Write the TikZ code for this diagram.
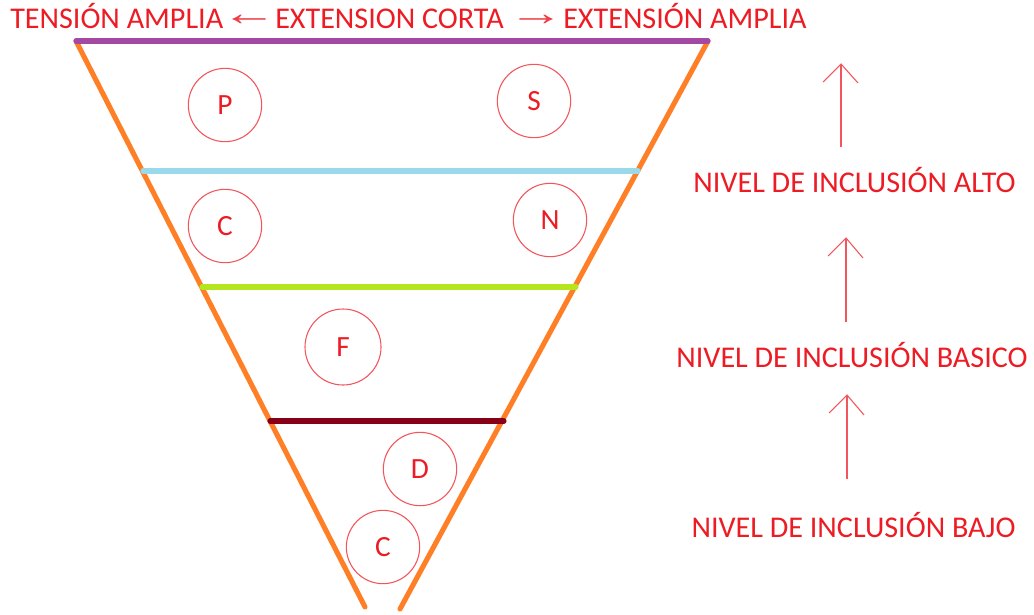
\documentclass[tikz,border=0pt]{standalone}
\usepackage{fontspec}
\setmainfont{Carlito}
\newfontfamily\arrowfont{Liberation Sans}
\usetikzlibrary{calc}
\definecolor{pred}{HTML}{ED1C24}
\definecolor{porange}{HTML}{FF7F27}
\definecolor{ppurple}{HTML}{A349A4}
\definecolor{pblue}{HTML}{99D9EA}
\definecolor{pgreen}{HTML}{B5E61D}
\definecolor{pdark}{HTML}{880015}
\tikzset{
  lbl/.style={text=pred, font=\fontsize{22.6pt}{26pt}\selectfont, inner sep=0pt},
  arrowtext/.style={text=pred!85, inner sep=0pt, font=\arrowfont\fontsize{21pt}{24pt}\selectfont},
  ball/.style={circle, draw=pred!75, line width=0.8pt, minimum size=55pt, inner sep=0pt, text=pred, font=\fontsize{22pt}{26pt}\selectfont},
  band/.style={line width=3.8pt, line cap=round},
  side/.style={porange, line width=3.8pt, line cap=round},
  uparrow/.style={draw=pred!75, line width=0.8pt},
}
\begin{document}
\begin{tikzpicture}[x=0.75pt,y=-0.75pt]
\useasboundingbox (0,0) rectangle (1034,614);
\fill[white] (0,0) rectangle (1034,614);
% corners
\coordinate (TL) at (76,41);
\coordinate (TR) at (708,41);
\coordinate (BL) at (365,607);
\coordinate (BR) at (400,609);
\draw[side] (TL) -- (BL);
\draw[side] (TR) -- (BR);
% bands
\coordinate (b1l) at (143,171); \coordinate (b1r) at (638,171);
\coordinate (b2l) at (202,287); \coordinate (b2r) at (576,287);
\coordinate (b3l) at (270,421); \coordinate (b3r) at (504,421);
\draw[band, ppurple] (TL) -- (TR);
\draw[band, pblue] (b1l) -- (b1r);
\draw[band, pgreen] (b2l) -- (b2r);
\draw[band, pdark] (b3l) -- (b3r);
% circles
\node[ball] (P) at (225,105) {P};
\node[ball] (S) at (534,101) {S};
\node[ball] (C1) at (225,226) {C};
\node[ball] (N) at (550,220) {N};
\node[ball, minimum size=57pt] (F) at (343,347) {F};
\node[ball] (D) at (420,469) {D};
\node[ball] (C2) at (383,547) {C};
% top text
\node[lbl, anchor=base west] (t1) at (10,28) {TENSIÓN AMPLIA};
\node[arrowtext] (a1) at (249,20) {\scalebox{2}[1.3]{←}};
\node[lbl, anchor=base west] (t2) at (275,28) {EXTENSION CORTA};
\node[arrowtext] (a2) at (536,20) {\scalebox{2}[1.3]{→}};
\node[lbl, anchor=base west] (t3) at (563,28) {EXTENSIÓN AMPLIA};
% right labels
\node[lbl, anchor=base] (alto) at (854.5,192) {NIVEL DE INCLUSIÓN ALTO};
\node[lbl, anchor=base] (basico) at (852,367) {NIVEL DE INCLUSIÓN BASICO};
\node[lbl, anchor=base] (bajo) at (853.5,537) {NIVEL DE INCLUSIÓN BAJO};
% arrows
\coordinate (u1b) at (841,147); \coordinate (u1t) at (841,64);
\coordinate (u1l) at (823,82); \coordinate (u1r) at (858,83);
\draw[uparrow] (u1b) -- (u1t);
\draw[uparrow] (u1l) -- (u1t) -- (u1r);
\coordinate (u2b) at (846,322); \coordinate (u2t) at (846,238);
\coordinate (u2l) at (828,256); \coordinate (u2r) at (863,258);
\draw[uparrow] (u2b) -- (u2t);
\draw[uparrow] (u2l) -- (u2t) -- (u2r);
\coordinate (u3b) at (847,479); \coordinate (u3t) at (847,395);
\coordinate (u3l) at (829,413); \coordinate (u3r) at (864,415);
\draw[uparrow] (u3b) -- (u3t);
\draw[uparrow] (u3l) -- (u3t) -- (u3r);
\end{tikzpicture}
\end{document}
